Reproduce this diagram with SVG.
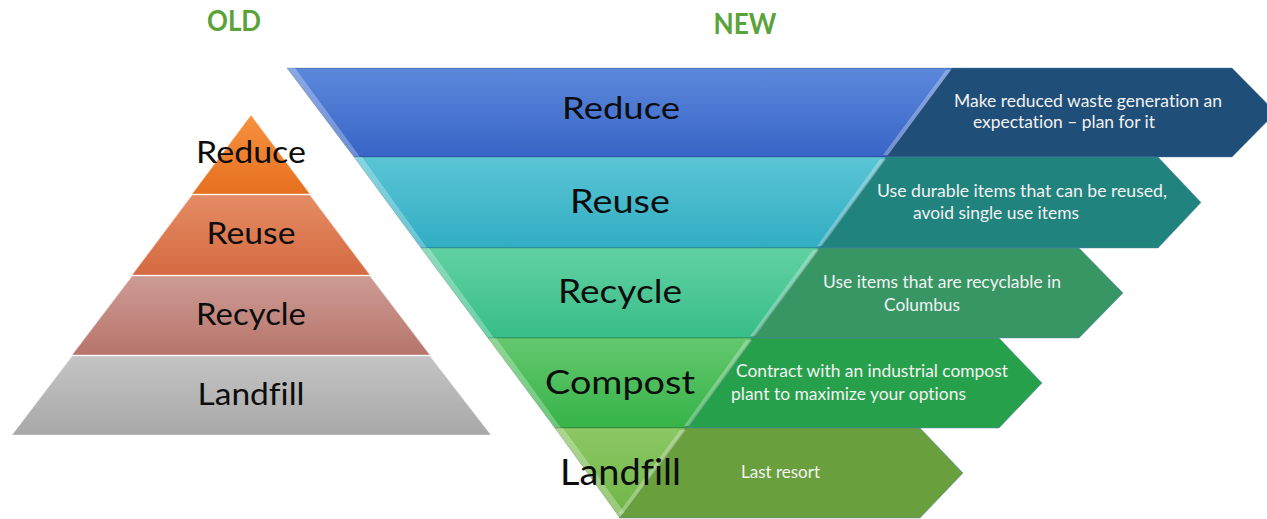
<svg xmlns="http://www.w3.org/2000/svg" width="1267" height="519" viewBox="0 0 1267 519">
<style>
text{font-variant-ligatures:none;font-feature-settings:"liga" 0}
.title{font-family:Lato,"Liberation Sans",Arial,sans-serif;font-weight:bold;font-size:28px;fill:#5AA23A;text-anchor:middle}
.lbl{font-family:Lato,"Liberation Sans",Arial,sans-serif;fill:#0d0d0d;text-anchor:middle}
.desc{font-family:Lato,"Liberation Sans",Arial,sans-serif;font-size:16.5px;fill:#F2F2F2}
.layer{stroke:#ffffff;stroke-opacity:0.35;stroke-width:1.2}
.band{stroke:#000000;stroke-opacity:0.18;stroke-width:1}
.arrow{stroke:#4F7DAF;stroke-opacity:0.55;stroke-width:0.8}
.bevel{fill:#ffffff;fill-opacity:0.28}
</style>
<defs>
<linearGradient id="oRed" x1="0" y1="0" x2="0" y2="1"><stop offset="0" stop-color="#F6913F"/><stop offset="1" stop-color="#E6701F"/></linearGradient>
<linearGradient id="oReu" x1="0" y1="0" x2="0" y2="1"><stop offset="0" stop-color="#E58C64"/><stop offset="1" stop-color="#D46A41"/></linearGradient>
<linearGradient id="oRec" x1="0" y1="0" x2="0" y2="1"><stop offset="0" stop-color="#CD9C94"/><stop offset="1" stop-color="#B7746B"/></linearGradient>
<linearGradient id="oLan" x1="0" y1="0" x2="0" y2="1"><stop offset="0" stop-color="#C4C4C4"/><stop offset="1" stop-color="#A8A8A8"/></linearGradient>
<linearGradient id="nRed" x1="0" y1="0" x2="0" y2="1"><stop offset="0" stop-color="#5C88DB"/><stop offset="1" stop-color="#3865C6"/></linearGradient>
<linearGradient id="nReu" x1="0" y1="0" x2="0" y2="1"><stop offset="0" stop-color="#5AC5D4"/><stop offset="1" stop-color="#31ADC3"/></linearGradient>
<linearGradient id="nRec" x1="0" y1="0" x2="0" y2="1"><stop offset="0" stop-color="#62D1A3"/><stop offset="1" stop-color="#37BD87"/></linearGradient>
<linearGradient id="nCom" x1="0" y1="0" x2="0" y2="1"><stop offset="0" stop-color="#64C86E"/><stop offset="1" stop-color="#36B349"/></linearGradient>
<linearGradient id="nLan" x1="0" y1="0" x2="0" y2="1"><stop offset="0" stop-color="#8CC865"/><stop offset="1" stop-color="#6FB546"/></linearGradient>
</defs>
<rect width="1267" height="519" fill="#ffffff"/>

<g id="titles">
<text class="title" x="234" y="31" textLength="54" lengthAdjust="spacingAndGlyphs">OLD</text>
<text class="title" x="745" y="34" textLength="63" lengthAdjust="spacingAndGlyphs">NEW</text>
</g>

<g id="connectors"/>

<!-- OLD pyramid -->
<g id="old-reduce">
<polygon class="layer" points="251,115 310,194 192,194" fill="url(#oRed)"/>
<text class="lbl" x="251" y="163" font-size="30" textLength="110" lengthAdjust="spacingAndGlyphs">Reduce</text>
</g>
<g id="old-reuse">
<polygon class="layer" points="192,195 310,195 370,275 132,275" fill="url(#oReu)"/>
<text class="lbl" x="251" y="244" font-size="30" textLength="89" lengthAdjust="spacingAndGlyphs">Reuse</text>
</g>
<g id="old-recycle">
<polygon class="layer" points="132,276 370,276 430,355 72,355" fill="url(#oRec)"/>
<text class="lbl" x="251" y="325" font-size="30" textLength="110" lengthAdjust="spacingAndGlyphs">Recycle</text>
</g>
<g id="old-landfill">
<polygon class="layer" points="72,356 430,356 491,435 12,435" fill="url(#oLan)"/>
<text class="lbl" x="251" y="405" font-size="30" textLength="107" lengthAdjust="spacingAndGlyphs">Landfill</text>
</g>

<!-- NEW arrows -->
<g id="new-reduce-desc">
<polygon class="arrow" points="952,68 1232,68 1276,112.5 1232,157 886,157" fill="#1F4E79"/>
<text class="desc" x="954" y="107" textLength="268" lengthAdjust="spacingAndGlyphs">Make reduced waste generation an</text>
<text class="desc" x="973" y="128" textLength="182" lengthAdjust="spacingAndGlyphs">expectation – plan for it</text>
</g>
<g id="new-reuse-desc">
<polygon class="arrow" points="886,157 1158,157 1201,202.5 1158,248 819,248" fill="#21837E"/>
<text class="desc" x="877" y="197" textLength="290" lengthAdjust="spacingAndGlyphs">Use durable items that can be reused,</text>
<text class="desc" x="913" y="219" textLength="166" lengthAdjust="spacingAndGlyphs">avoid single use items</text>
</g>
<g id="new-recycle-desc">
<polygon class="arrow" points="819,248 1079,248 1123,293 1079,338 752,338" fill="#379664"/>
<text class="desc" x="823" y="288" textLength="238" lengthAdjust="spacingAndGlyphs">Use items that are recyclable in</text>
<text class="desc" x="884" y="311" textLength="76" lengthAdjust="spacingAndGlyphs">Columbus</text>
</g>
<g id="new-compost-desc">
<polygon class="arrow" points="752,338 999,338 1042,383 999,428 686,428" fill="#27A04C"/>
<text class="desc" x="736" y="377" textLength="272" lengthAdjust="spacingAndGlyphs">Contract with an industrial compost</text>
<text class="desc" x="731" y="400" textLength="235" lengthAdjust="spacingAndGlyphs">plant to maximize your options</text>
</g>
<g id="new-landfill-desc">
<polygon class="arrow" points="686,428 920,428 963,473 920,518 619,518" fill="#6A9F3D"/>
<text class="desc" x="741" y="478" textLength="79" lengthAdjust="spacingAndGlyphs">Last resort</text>
</g>

<!-- NEW funnel -->
<g id="new-reduce">
<polygon class="band" points="287,68 952,68 886,157 354,157" fill="url(#nRed)"/>
<polygon class="bevel" points="287,68 295,68 360,157 354,157"/>
<polygon class="bevel" points="946,70 951,70 888,155 883,155"/>
<text class="lbl" x="621" y="119" font-size="31.5" textLength="118" lengthAdjust="spacingAndGlyphs">Reduce</text>
</g>
<g id="new-reuse">
<polygon class="band" points="354,157 886,157 819,248 421,248" fill="url(#nReu)"/>
<polygon class="bevel" points="354,157 362,157 427,248 421,248"/>
<polygon class="bevel" points="880,159 886,159 822,246 817,246"/>
<text class="lbl" x="620" y="213" font-size="32" textLength="100" lengthAdjust="spacingAndGlyphs">Reuse</text>
</g>
<g id="new-recycle">
<polygon class="band" points="421,248 819,248 752,338 488,338" fill="url(#nRec)"/>
<polygon class="bevel" points="421,248 429,248 494,338 488,338"/>
<polygon class="bevel" points="813,250 819,250 755,336 750,336"/>
<text class="lbl" x="620" y="303" font-size="32" textLength="124" lengthAdjust="spacingAndGlyphs">Recycle</text>
</g>
<g id="new-compost">
<polygon class="band" points="488,338 752,338 686,428 555,428" fill="url(#nCom)"/>
<polygon class="bevel" points="488,338 496,338 561,428 555,428"/>
<polygon class="bevel" points="746,340 752,340 689,426 684,426"/>
<text class="lbl" x="620" y="394" font-size="33" textLength="150" lengthAdjust="spacingAndGlyphs">Compost</text>
</g>
<g id="new-landfill">
<polygon class="band" points="555,428 686,428 620,518" fill="url(#nLan)"/>
<polygon class="bevel" points="555,428 563,428 624,512 620,518"/>
<polygon class="bevel" points="680,430 686,430 623,514 618,514"/>
<text class="lbl" x="620.5" y="485" font-size="37" textLength="121" lengthAdjust="spacingAndGlyphs">Landfill</text>
</g>
</svg>
